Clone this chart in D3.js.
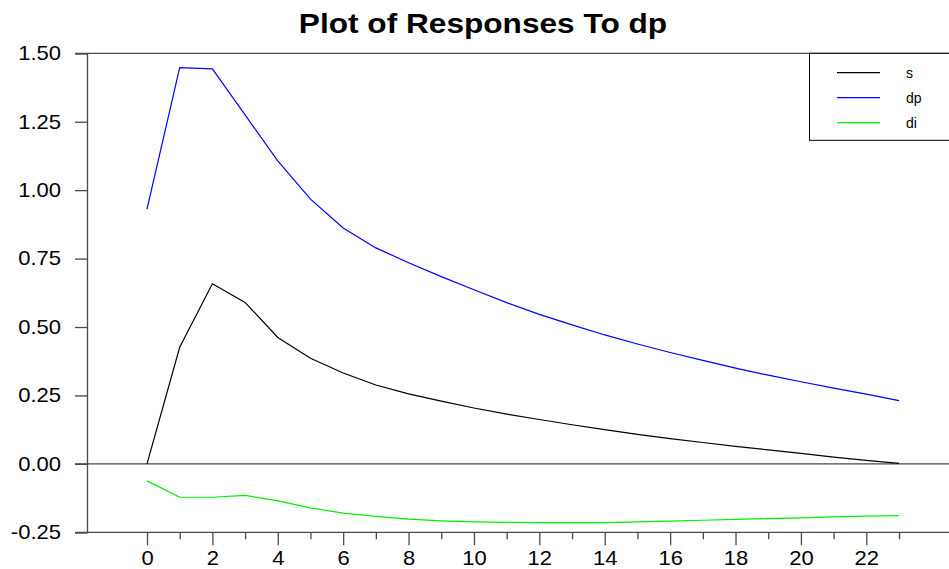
<!DOCTYPE html>
<html>
<head>
<meta charset="utf-8">
<script src="https://cdn.jsdelivr.net/npm/d3@7"></script>
<style>
  html, body { margin: 0; padding: 0; background: #fff; }
  svg { display: block; font-family: "Liberation Sans", Arial, sans-serif; }
</style>
</head>
<body>
<svg id="chart" width="949" height="569"></svg>
<script>
// ---- data ----
const steps = d3.range(0, 24);
const seriesNames = ["s", "dp", "di"];
const seriesColors = ["#000000", "#0000ff", "#00ee00"];
const sValues = [0.000, 0.426, 0.658, 0.590, 0.462, 0.386, 0.332, 0.288, 0.256, 0.229, 0.204, 0.182,
                 0.162, 0.143, 0.125, 0.108, 0.092, 0.078, 0.064, 0.051, 0.038, 0.025, 0.013, 0.002];
const dpValues = [0.931, 1.448, 1.443, 1.275, 1.107, 0.967, 0.862, 0.789, 0.735, 0.684, 0.636, 0.589,
                  0.546, 0.508, 0.471, 0.438, 0.407, 0.378, 0.350, 0.324, 0.300, 0.277, 0.255, 0.231];
const diValues = [-0.062, -0.122, -0.122, -0.115, -0.135, -0.161, -0.180, -0.192, -0.202, -0.208, -0.212, -0.214,
                  -0.215, -0.215, -0.215, -0.212, -0.209, -0.206, -0.203, -0.200, -0.197, -0.194, -0.191, -0.189];
const yTicks = [-0.25, 0.00, 0.25, 0.50, 0.75, 1.00, 1.25, 1.50];
const xMajorTicks = d3.range(0, 24, 2);
const xMinorTicks = d3.range(1, 24, 2);
const titleText = "Plot of Responses To dp";

// ---- layout ----
const svg = d3.select("#chart");
const axisX = 87;        // left axis line
const tickLeft = 75;     // left end of y ticks / horizontal frame lines
const frameRight = 960;  // frame runs off the right edge
const stretch = 1.1;     // reference text is slightly wide

const x = d3.scaleLinear().domain([0, 23]).range([147, 899]);
const y = d3.scaleLinear().domain([-0.25, 1.5]).range([532.3, 53.3]);

const axisColor = "#4a4a4a";

// title (horizontally stretched like the reference)
svg.append("g")
  .attr("transform", "translate(483,32.5) scale(1.15,1)")
  .append("text")
  .attr("x", 0).attr("y", 0)
  .attr("text-anchor", "middle")
  .attr("font-size", 27.5)
  .attr("font-weight", "bold")
  .attr("fill", "#000")
  .text(titleText);

// horizontal frame lines: top, zero, bottom
[1.5, 0, -0.25].forEach(v => {
  svg.append("line")
    .attr("x1", tickLeft).attr("x2", frameRight)
    .attr("y1", y(v)).attr("y2", y(v))
    .attr("stroke", axisColor).attr("stroke-width", 1.3);
});

// y axis
const yAxis = d3.axisLeft(y)
  .tickValues(yTicks)
  .tickSize(axisX - tickLeft)
  .tickPadding(14)
  .tickFormat(d => d.toFixed(2));
const gy = svg.append("g").attr("transform", `translate(${axisX},0)`).call(yAxis);
gy.select(".domain").attr("stroke", axisColor).attr("stroke-width", 1.3);
gy.selectAll(".tick line").attr("stroke", axisColor).attr("stroke-width", 1.3);
gy.selectAll(".tick text").attr("font-size", 20).attr("fill", "#000")
  .attr("font-family", "'Liberation Sans', Arial, sans-serif")
  .attr("x", -26 / stretch)
  .attr("transform", `scale(${stretch},1)`);

// x axis: major
const xAxisMajor = d3.axisBottom(x)
  .tickValues(xMajorTicks)
  .tickSize(13)
  .tickPadding(6)
  .tickFormat(d => String(d));
const gx = svg.append("g").attr("transform", `translate(0,${y(-0.25)})`).call(xAxisMajor);
gx.select(".domain").remove();
gx.selectAll(".tick line").attr("stroke", axisColor).attr("stroke-width", 1.3);
gx.selectAll(".tick text").attr("font-size", 20).attr("fill", "#000")
  .attr("font-family", "'Liberation Sans', Arial, sans-serif")
  .attr("transform", `scale(${stretch},1)`);

// x axis: minor
const xAxisMinor = d3.axisBottom(x)
  .tickValues(xMinorTicks)
  .tickSize(7)
  .tickFormat("");
const gxm = svg.append("g").attr("transform", `translate(0,${y(-0.25)})`).call(xAxisMinor);
gxm.select(".domain").remove();
gxm.selectAll(".tick line").attr("stroke", axisColor).attr("stroke-width", 1.3);

// series lines
const allSeries = [sValues, dpValues, diValues];
const line = d3.line().x((d, i) => x(steps[i])).y(d => y(d));
allSeries.forEach((vals, k) => {
  svg.append("path")
    .datum(vals)
    .attr("fill", "none")
    .attr("stroke", seriesColors[k])
    .attr("stroke-width", 1.2)
    .attr("d", line);
});

// legend
const legend = svg.append("g");
legend.append("rect")
  .attr("x", 809.5).attr("y", 53.3)
  .attr("width", 160).attr("height", 87)
  .attr("fill", "#fff")
  .attr("stroke", "#000").attr("stroke-width", 1);
seriesNames.forEach((name, k) => {
  const ly = 72.7 + k * 25;
  legend.append("line")
    .attr("x1", 837).attr("x2", 880)
    .attr("y1", ly).attr("y2", ly)
    .attr("stroke", seriesColors[k]).attr("stroke-width", 1.2);
  legend.append("text")
    .attr("x", 906).attr("y", ly + 5)
    .attr("font-size", 14)
    .attr("fill", "#000")
    .text(name);
});
</script>
</body>
</html>
